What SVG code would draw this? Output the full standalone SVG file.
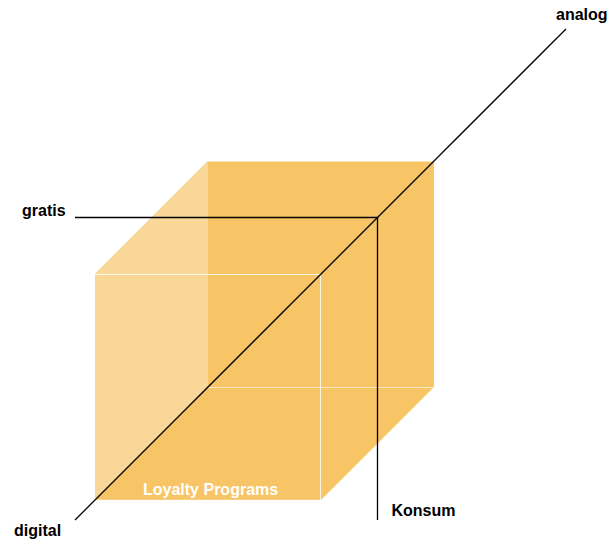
<svg xmlns="http://www.w3.org/2000/svg" width="610" height="541" viewBox="0 0 610 541">
  <style>
    .lbl { font-family: "Liberation Sans", Arial, sans-serif; font-weight: bold; font-size: 16px; fill: #000; }
    .inner { fill: #fff; }
    .edge { stroke: #fff; stroke-width: 1; fill: none; }
    .axis { stroke: #000; stroke-width: 1.3; fill: none; }
  </style>
  <rect width="610" height="541" fill="#fff"/>
  <g id="cube">
    <polygon points="95,274 208,161 434,161 434,387 321,500 95,500" fill="#F7C565"/>
    <polygon points="95,274 208,161 208,387 95,500" fill="#F9D798"/>
    <line class="edge" x1="208" y1="161.5" x2="434" y2="161.5" stroke-opacity="0.5"/>
    <line class="edge" x1="95" y1="274.5" x2="321" y2="274.5" stroke-opacity="0.8"/>
    <line class="edge" x1="320.5" y1="274" x2="320.5" y2="500" stroke-opacity="0.8"/>
    <line class="edge" x1="208" y1="387.5" x2="434" y2="387.5" stroke-opacity="0.6"/>
    <line class="edge" x1="95" y1="500" x2="321" y2="500" stroke-opacity="0.4"/>
    <text class="lbl inner" x="143" y="495">Loyalty Programs</text>
  </g>
  <g id="connectors">
    <line class="axis" x1="75" y1="520" x2="566" y2="29"/>
    <polyline class="axis" points="75,217.5 377.5,217.5 377.5,520"/>
  </g>
  <g id="analog"><text class="lbl" x="556" y="20">analog</text></g>
  <g id="gratis"><text class="lbl" x="22" y="216">gratis</text></g>
  <g id="digital"><text class="lbl" x="14" y="536">digital</text></g>
  <g id="konsum"><text class="lbl" x="391.5" y="516">Konsum</text></g>
</svg>
